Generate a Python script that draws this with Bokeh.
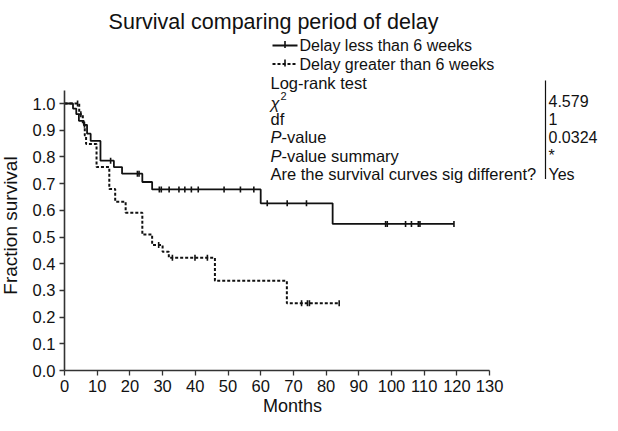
import numpy as np
from bokeh.plotting import figure
from bokeh.models import Range1d, FixedTicker, PrintfTickFormatter, Label
from bokeh.embed import file_html
from bokeh.resources import INLINE

# ---------------- data ----------------
TITLE = "Survival comparing period of delay"
X_LABEL = "Months"
Y_LABEL = "Fraction survival"
x_ticks = [0, 10, 20, 30, 40, 50, 60, 70, 80, 90, 100, 110, 120, 130]
y_ticks = [0.0, 0.1, 0.2, 0.3, 0.4, 0.5, 0.6, 0.7, 0.8, 0.9, 1.0]

less_name = "Delay less than 6 weeks"
less_t = [0, 2.6, 3.6, 4.4, 5.9, 6.9, 8.0, 11.0, 15.1, 17.6, 23.8, 26.8, 60.0, 82.0]
less_s = [1.0, 0.981, 0.960, 0.935, 0.920, 0.887, 0.860, 0.786, 0.762, 0.737, 0.706, 0.678, 0.626, 0.549]
less_end = 119.1
less_cens = [6.1, 14.1, 22.3, 22.8, 29.0, 29.6, 32.0, 35.0, 36.8, 38.8, 40.9, 48.8, 53.8,
             57.9, 62.0, 68.1, 74.0, 98.2, 98.7, 104.3, 106.1, 108.2, 108.7, 119.1]

more_name = "Delay greater than 6 weeks"
more_t = [0, 4.5, 5.6, 6.2, 6.6, 9.8, 13.7, 15.5, 18.7, 23.8, 26.8, 30.0, 31.9, 46.0, 68.0]
more_s = [1.0, 0.96, 0.92, 0.88, 0.848, 0.762, 0.68, 0.632, 0.591, 0.509, 0.47, 0.445, 0.422, 0.336, 0.252]
more_end = 84.0
more_cens = [4.0, 5.0, 28.8, 33.0, 39.9, 43.7, 72.5, 74.3, 74.9, 84.0]

stat_header = "Log-rank test"
stat_rows = ["χ²", "df", "P-value", "P-value summary", "Are the survival curves sig different?"]
stat_values = ["4.579", "1", "0.0324", "*", "Yes"]

# ---------------- layout ----------------
W, H = 602, 415
ORIGIN_X, ORIGIN_Y = 64, 370      # pixel position of (0, 0) inside the canvas
PX_PER_X = 3.27
PX_PER_Y = 267.0
FONT = "Liberation Sans"
INK = "#111111"


def X(px):
    return (px - ORIGIN_X) / PX_PER_X


def Y(py):
    return (ORIGIN_Y - py) / PX_PER_Y


p = figure(width=W, height=H,
           x_range=Range1d(X(0), X(W)),
           y_range=Range1d(Y(H), Y(0)),
           output_backend="svg", toolbar_location=None,
           min_border=0, min_border_left=0, min_border_right=0,
           min_border_top=0, min_border_bottom=0)
p.outline_line_color = None
p.grid.visible = False
p.background_fill_color = "white"

for ax in (p.xaxis[0], p.yaxis[0]):
    ax.fixed_location = 0
    ax.axis_line_color = "#333333"
    ax.axis_line_width = 1.6
    ax.major_tick_line_color = "#333333"
    ax.major_tick_line_width = 1.3
    ax.major_tick_out = 5
    ax.major_tick_in = 0
    ax.minor_tick_line_color = None
    ax.major_label_text_font = FONT
    ax.major_label_text_font_size = "16.5px"
    ax.major_label_text_color = INK

p.xaxis.bounds = (0, 130)
p.yaxis.bounds = (0, 1.05)
p.xaxis.ticker = FixedTicker(ticks=x_ticks)
p.yaxis.ticker = FixedTicker(ticks=y_ticks)
p.yaxis.formatter = PrintfTickFormatter(format="%.1f")
p.xaxis.major_label_standoff = 4
p.yaxis.major_label_standoff = 4


def level_at(ts, ss, t):
    i = np.searchsorted(np.array(ts), t, side="right") - 1
    return ss[i]


def draw_curve(ts, ss, end, cens, dash, width):
    xs = list(ts) + [end]
    ys = list(ss) + [ss[-1]]
    p.step(xs, ys, mode="after", line_color=INK, line_width=width, line_dash=dash)
    cy = [level_at(ts, ss, c) for c in cens]
    p.scatter(cens, cy, marker="dash", angle=np.pi / 2, size=6,
              line_color=INK, line_width=1.6)


draw_curve(less_t, less_s, less_end, less_cens, "solid", 1.8)
draw_curve(more_t, more_s, more_end, more_cens, "3 2", 2.0)


def label(px, py, text, size="16px", align="left", style="normal", angle=0.0):
    p.add_layout(Label(x=X(px), y=Y(py), text=text, text_font=FONT,
                       text_font_size=size, text_align=align,
                       text_baseline="middle", text_color=INK,
                       text_font_style=style, angle=angle))


# title and axis labels
label(273, 21, TITLE, size="21.5px", align="center")
label(10, 225, Y_LABEL, size="19px", align="center", angle=np.pi / 2)
label(292, 405, X_LABEL, size="18px", align="center")

# legend
TX = 270
legend_rows = [(45, less_name, "solid", 1.8), (63.5, more_name, "3 2", 2.0)]
for py, name, dash, w in legend_rows:
    p.line([X(TX + 2), X(TX + 27)], [Y(py), Y(py)], line_color=INK,
           line_width=w, line_dash=dash)
    p.scatter([X(TX + 14.5)], [Y(py - 1)], marker="dash", angle=np.pi / 2, size=7,
              line_color=INK, line_width=1.6)
    label(TX + 29, py, name, size="16px")

# statistics table
ROW0 = 82
DY = 18.3
TS = "16.5px"
label(TX, ROW0, stat_header, size=TS)
SEP_X = 545
VAL_X = 548
p.line([X(SEP_X), X(SEP_X)], [Y(ROW0 - 2), Y(ROW0 + 5 * DY + 5)], line_color=INK, line_width=1.2)
for i, (row, val) in enumerate(zip(stat_rows, stat_values)):
    py = ROW0 + (i + 1) * DY
    if row == "χ²":
        label(TX, py + 2, "χ", size=TS, style="italic")
        label(TX + 10, py - 5, "2", size="11px")
    elif row.startswith("P-"):
        label(TX, py, "P", size=TS, style="italic")
        label(TX + 11, py, row[1:], size=TS)
    else:
        label(TX, py, row, size=TS)
    label(VAL_X, py, val, size="16px")

open("out.html", "w").write(file_html(p, INLINE))
